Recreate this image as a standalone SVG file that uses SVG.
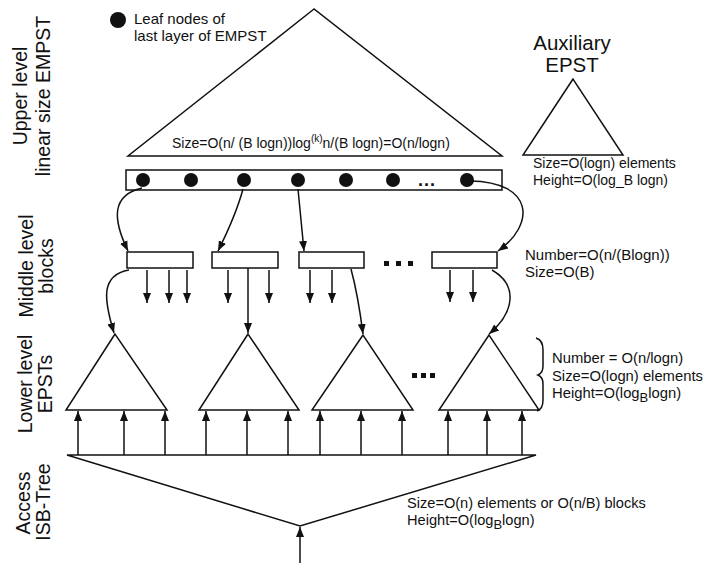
<svg xmlns="http://www.w3.org/2000/svg" width="706" height="563" viewBox="0 0 706 563">
<defs>
<marker id="ah" markerUnits="userSpaceOnUse" markerWidth="10" markerHeight="10" viewBox="0 0 10 10" refX="10" refY="5" orient="auto">
<path d="M0,1 L10,5 L0,9 Z" fill="#111"/>
</marker>
<style>
.t{font-family:"Liberation Sans",Arial,sans-serif;fill:#111}
.lbl{font-size:19.5px}
.s14{font-size:14px}
.s15{font-size:15px}
.shape{fill:none;stroke:#111;stroke-width:1.5}
.box{fill:#fff;stroke:#111;stroke-width:1.5}
.c{fill:none;stroke:#111;stroke-width:1.5;marker-end:url(#ah)}
.dot{fill:#111}
</style>
</defs>
<rect width="706" height="563" fill="#fff"/>

<g id="labels-left">
<text class="t lbl" transform="rotate(-90)" x="-96" y="27" text-anchor="middle">Upper level</text>
<text class="t lbl" transform="rotate(-90)" x="-96" y="50" text-anchor="middle">linear size EMPST</text>
<text class="t lbl" transform="rotate(-90)" x="-266" y="33" text-anchor="middle">Middle level</text>
<text class="t lbl" transform="rotate(-90)" x="-266" y="53" text-anchor="middle">blocks</text>
<text class="t lbl" transform="rotate(-90)" x="-384" y="32" text-anchor="middle">Lower level</text>
<text class="t lbl" transform="rotate(-90)" x="-384" y="52" text-anchor="middle">EPSTs</text>
<text class="t lbl" transform="rotate(-90)" x="-503" y="30" text-anchor="middle">Access</text>
<text class="t lbl" transform="rotate(-90)" x="-502" y="50" text-anchor="middle">ISB-Tree</text>
</g>

<g id="legend">
<circle class="dot" cx="118" cy="20" r="8"/>
<text class="t s15" x="134" y="24">Leaf nodes of</text>
<text class="t s15" x="134" y="41">last layer of EMPST</text>
</g>

<g id="empst">
<polygon class="shape" points="314,9 128,156 502,156"/>
<text class="t s14" x="172" y="148">Size=O(n/ (B logn))log<tspan font-size="10" dy="-6">(k)</tspan><tspan dy="6">n/(B logn)=O(n/logn)</tspan></text>
</g>

<g id="leaf-strip">
<rect class="box" x="126" y="170" width="376" height="20"/>
<circle class="dot" cx="143" cy="180" r="7"/>
<circle class="dot" cx="191" cy="180" r="7"/>
<circle class="dot" cx="244" cy="180" r="7"/>
<circle class="dot" cx="298" cy="180" r="7"/>
<circle class="dot" cx="346" cy="180" r="7"/>
<circle class="dot" cx="393" cy="180" r="7"/>
<circle class="dot" cx="467" cy="180" r="7"/>
<text class="t" x="418" y="186" font-size="18" font-weight="bold" letter-spacing="1">...</text>
</g>

<g id="aux-epst">
<text class="t" x="572" y="50" font-size="20.5" text-anchor="middle">Auxiliary</text>
<text class="t" x="572" y="72" font-size="20.5" text-anchor="middle">EPST</text>
<polygon class="shape" points="573,79 523,155 623,155"/>
<text class="t s14" x="533" y="168">Size=O(logn) elements</text>
<text class="t s14" x="533" y="185">Height=O(log_B logn)</text>
</g>

<g id="middle-blocks">
<rect class="box" x="127" y="252" width="66" height="16"/>
<rect class="box" x="212" y="252" width="66" height="16"/>
<rect class="box" x="299" y="252" width="65" height="16"/>
<rect class="box" x="432" y="252" width="65" height="16"/>
<rect class="dot" x="384" y="261" width="5" height="5"/>
<rect class="dot" x="396" y="261" width="5" height="5"/>
<rect class="dot" x="408" y="261" width="5" height="5"/>
<text class="t s15" x="525" y="260">Number=O(n/(Blogn))</text>
<text class="t s15" x="525" y="277">Size=O(B)</text>
</g>

<g id="lower-epsts">
<polygon class="shape" points="115,334 66,410 167,410"/>
<polygon class="shape" points="248,334 199,410 299,410" stroke-width="1.8"/>
<polygon class="shape" points="363,335 312,410 413,410"/>
<polygon class="shape" points="489,335 439,410 539,410"/>
<rect class="dot" x="412" y="373" width="5" height="5"/>
<rect class="dot" x="421" y="373" width="5" height="5"/>
<rect class="dot" x="430" y="373" width="5" height="5"/>
<path class="shape" d="M536,338 Q543,340 543,350 L543,366 Q543,373 538,375 Q543,377 543,384 L543,400 Q543,409 537,411" stroke-width="1.2"/>
<text class="t" x="552" y="363" font-size="14.8">Number = O(n/logn)</text>
<text class="t" x="552" y="381" font-size="14.8">Size=O(logn) elements</text>
<text class="t" x="552" y="398" font-size="14.8">Height=O(log<tspan font-size="13" dy="4">B</tspan><tspan dy="-4">logn)</tspan></text>
</g>

<g id="isb-tree">
<polygon class="shape" points="67,455 536,455 300,526"/>
<text class="t" x="407" y="508" font-size="14.6">Size=O(n) elements or O(n/B) blocks</text>
<text class="t" x="407" y="525" font-size="14.6">Height=O(log<tspan font-size="13" dy="4">B</tspan><tspan dy="-4">logn)</tspan></text>
</g>

<g id="connectors">
<path class="c" d="M142,188 C112,195 112,218 128,251"/>
<path class="c" d="M243,189 Q236,215 218,251"/>
<path class="c" d="M298,189 L304,251"/>
<path class="c" d="M470,181 C535,182 535,225 498,251"/>
<path class="c" d="M147,270 L147,303"/>
<path class="c" d="M169,270 L169,303"/>
<path class="c" d="M187,270 L187,303"/>
<path class="c" d="M228,270 L228,303"/>
<path class="c" d="M269,270 L269,303"/>
<path class="c" d="M310,270 L310,303"/>
<path class="c" d="M332,270 L332,303"/>
<path class="c" d="M450,270 L450,302"/>
<path class="c" d="M473,270 L473,302"/>
<path class="c" d="M129,270 C100,275 104,300 114,333"/>
<path class="c" d="M248,268 L248,333"/>
<path class="c" d="M351,269 Q358,295 363,334"/>
<path class="c" d="M492,270 C518,285 515,312 489,334"/>
<path class="c" d="M78,455 L78,411"/>
<path class="c" d="M124,455 L124,411"/>
<path class="c" d="M165,455 L165,411"/>
<path class="c" d="M206,455 L206,411"/>
<path class="c" d="M247,455 L247,411"/>
<path class="c" d="M288,455 L288,411"/>
<path class="c" d="M320,455 L320,411"/>
<path class="c" d="M361,455 L361,411"/>
<path class="c" d="M402,455 L402,411"/>
<path class="c" d="M448,455 L448,411"/>
<path class="c" d="M487,455 L487,411"/>
<path class="c" d="M522,455 L522,411"/>
<path class="c" d="M300,563 L300,527"/>
</g>
</svg>
